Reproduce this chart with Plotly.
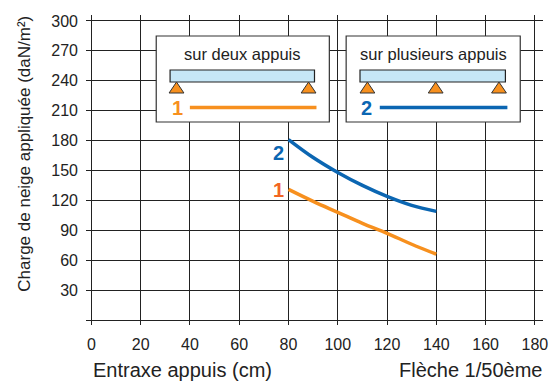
import plotly.graph_objects as go

# Data
entraxe = [80, 90, 100, 110, 120, 130, 140]
charge_deux_appuis = [131, 119, 108, 97, 87, 76, 66]
charge_plusieurs_appuis = [181, 163, 148, 135, 124, 115, 109]
x_ticks = [0, 20, 40, 60, 80, 100, 120, 140, 160, 180]
y_ticks = [0, 30, 60, 90, 120, 150, 180, 210, 240, 270, 300]
y_ticktext = [""] + [str(v) for v in y_ticks[1:]]

ORANGE = "#F7901E"
ORANGE_LBL = "#F26522"
BLUE = "#0B66B2"
BEAM = "#C6E7F7"
TXT = "#222222"
FONT = "Liberation Sans, Arial, sans-serif"

W, H = 556, 384
L, R, T, B = 86, 548, 15, 325


def px(x):
    return (x - L) / (R - L)


def py(y):
    return (B - y) / (B - T)


fig = go.Figure()
fig.add_trace(go.Scatter(x=entraxe, y=charge_deux_appuis, mode="lines",
                         line=dict(color=ORANGE, width=3.5, shape="spline"),
                         hoverinfo="skip"))
fig.add_trace(go.Scatter(x=entraxe, y=charge_plusieurs_appuis, mode="lines",
                         line=dict(color=BLUE, width=3.5, shape="spline"),
                         hoverinfo="skip"))

shapes = []
annotations = []


def legend_box(x0, x1, title, supports, num, color, numcolor):
    # frame
    shapes.append(dict(type="rect", xref="paper", yref="paper",
                       x0=px(x0), x1=px(x1), y0=py(122), y1=py(36),
                       fillcolor="white", line=dict(color="#333333", width=1.2)))
    annotations.append(dict(xref="paper", yref="paper", x=px((x0 + x1) / 2), y=py(54),
                            text=title, showarrow=False, xanchor="center", yanchor="middle",
                            font=dict(family=FONT, size=16.5, color=TXT)))
    # beam
    bx0, bx1 = x0 + 14, x1 - 15
    shapes.append(dict(type="rect", xref="paper", yref="paper",
                       x0=px(bx0), x1=px(bx1), y0=py(82), y1=py(70),
                       fillcolor=BEAM, line=dict(color="#222222", width=1.2)))
    # supports
    for cx in supports:
        path = "M {} {} L {} {} L {} {} Z".format(px(cx), py(82), px(cx - 7.5), py(93),
                                                  px(cx + 7.5), py(93))
        shapes.append(dict(type="path", xref="paper", yref="paper", path=path,
                           fillcolor=ORANGE, line=dict(color="#333333", width=1)))
    # series key
    annotations.append(dict(xref="paper", yref="paper", x=px(bx0 + 7), y=py(108),
                            text="<b>%s</b>" % num, showarrow=False,
                            xanchor="center", yanchor="middle",
                            font=dict(family=FONT, size=20, color=numcolor)))
    shapes.append(dict(type="line", xref="paper", yref="paper",
                       x0=px(bx0 + 20), x1=px(x1 - 13), y0=py(107.5), y1=py(107.5),
                       line=dict(color=color, width=3.5)))


legend_box(157, 332, "sur deux appuis", [177.5, 311], "1", ORANGE, ORANGE)
legend_box(349, 525, "sur plusieurs appuis", [370.5, 439.5, 503.5], "2", BLUE, BLUE)

# curve labels
annotations.append(dict(x=entraxe[0], y=168, text="<b>2</b>", showarrow=False,
                        xanchor="right", yanchor="middle", xshift=-3,
                        font=dict(family=FONT, size=20, color=BLUE)))
annotations.append(dict(x=entraxe[0], y=130, text="<b>1</b>", showarrow=False,
                        xanchor="right", yanchor="middle", xshift=-3,
                        font=dict(family=FONT, size=20, color=ORANGE_LBL)))

# axis titles
annotations.append(dict(xref="paper", yref="paper", x=px(23), y=py(154),
                        text="Charge de neige appliquée (daN/m²)", textangle=-90,
                        showarrow=False, xanchor="center", yanchor="middle",
                        font=dict(family=FONT, size=17, color=TXT)))
annotations.append(dict(xref="paper", yref="paper", x=px(91), y=py(370),
                        text="Entraxe appuis (cm)", showarrow=False,
                        xanchor="left", yanchor="middle",
                        font=dict(family=FONT, size=20, color=TXT)))
annotations.append(dict(xref="paper", yref="paper", x=px(549), y=py(370),
                        text="Flèche 1/50ème", showarrow=False,
                        xanchor="right", yanchor="middle",
                        font=dict(family=FONT, size=20, color=TXT)))

grid = dict(showgrid=True, gridcolor="#222222", gridwidth=1,
            zeroline=True, zerolinecolor="#222222", zerolinewidth=1,
            showline=False, ticks="", fixedrange=True,
            tickfont=dict(family=FONT, size=16, color=TXT))

fig.update_xaxes(range=[-2.2, 183.3], tickvals=x_ticks, ticklabelstandoff=8, **grid)
fig.update_yaxes(range=[-5.0, 306.0], tickvals=y_ticks, ticktext=y_ticktext,
                 ticklabelstandoff=7, **grid)

fig.update_layout(width=W, height=H,
                  margin=dict(l=L, r=W - R, t=T, b=H - B),
                  paper_bgcolor="white", plot_bgcolor="white",
                  showlegend=False, shapes=shapes, annotations=annotations)

fig.write_html("out.html")
